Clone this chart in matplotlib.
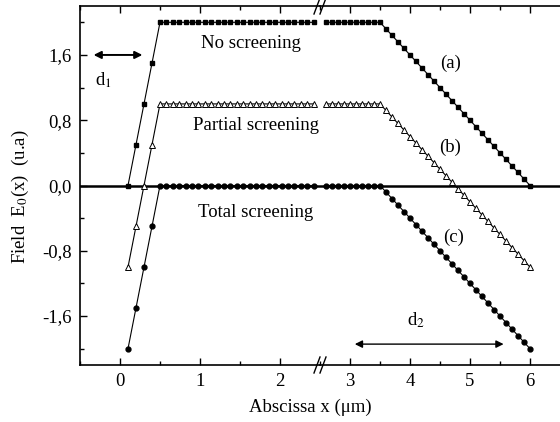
import matplotlib
matplotlib.use("Agg")
import matplotlib.pyplot as plt
from matplotlib.lines import Line2D

plt.rcParams['font.family'] = ['Liberation Serif', 'DejaVu Serif']
plt.rcParams['mathtext.fontset'] = 'stix'

# ---- data (left part of broken axis) ----
x_left = [0.1, 0.2, 0.3, 0.4, 0.5, 0.58, 0.66, 0.74, 0.82, 0.9, 0.98, 1.06, 1.14,
          1.22, 1.3, 1.38, 1.46, 1.54, 1.62, 1.7, 1.78, 1.86, 1.94, 2.02, 2.1,
          2.18, 2.26, 2.34, 2.42]
a_left = [0.0, 0.5, 1.0, 1.5, 2.0, 2.0, 2.0, 2.0, 2.0, 2.0, 2.0, 2.0, 2.0, 2.0,
          2.0, 2.0, 2.0, 2.0, 2.0, 2.0, 2.0, 2.0, 2.0, 2.0, 2.0, 2.0, 2.0, 2.0, 2.0]
b_left = [-1.0, -0.5, 0.0, 0.5, 1.0, 1.0, 1.0, 1.0, 1.0, 1.0, 1.0, 1.0, 1.0, 1.0,
          1.0, 1.0, 1.0, 1.0, 1.0, 1.0, 1.0, 1.0, 1.0, 1.0, 1.0, 1.0, 1.0, 1.0, 1.0]
c_left = [-2.0, -1.5, -1.0, -0.5, 0.0, 0.0, 0.0, 0.0, 0.0, 0.0, 0.0, 0.0, 0.0, 0.0,
          0.0, 0.0, 0.0, 0.0, 0.0, 0.0, 0.0, 0.0, 0.0, 0.0, 0.0, 0.0, 0.0, 0.0, 0.0]

# ---- data (right part of broken axis) ----
x_right = [2.6, 2.7, 2.8, 2.9, 3.0, 3.1, 3.2, 3.3, 3.4, 3.5, 3.6, 3.7, 3.8, 3.9,
           4.0, 4.1, 4.2, 4.3, 4.4, 4.5, 4.6, 4.7, 4.8, 4.9, 5.0, 5.1, 5.2, 5.3,
           5.4, 5.5, 5.6, 5.7, 5.8, 5.9, 6.0]
a_right = [2.0, 2.0, 2.0, 2.0, 2.0, 2.0, 2.0, 2.0, 2.0, 2.0, 1.92, 1.84, 1.76, 1.68,
           1.6, 1.52, 1.44, 1.36, 1.28, 1.2, 1.12, 1.04, 0.96, 0.88, 0.8, 0.72,
           0.64, 0.56, 0.48, 0.4, 0.32, 0.24, 0.16, 0.08, 0.0]
b_right = [1.0, 1.0, 1.0, 1.0, 1.0, 1.0, 1.0, 1.0, 1.0, 1.0, 0.92, 0.84, 0.76, 0.68,
           0.6, 0.52, 0.44, 0.36, 0.28, 0.2, 0.12, 0.04, -0.04, -0.12, -0.2, -0.28,
           -0.36, -0.44, -0.52, -0.6, -0.68, -0.76, -0.84, -0.92, -1.0]
c_right = [0.0, 0.0, 0.0, 0.0, 0.0, 0.0, 0.0, 0.0, 0.0, 0.0, -0.08, -0.16, -0.24,
           -0.32, -0.4, -0.48, -0.56, -0.64, -0.72, -0.8, -0.88, -0.96, -1.04,
           -1.12, -1.2, -1.28, -1.36, -1.44, -1.52, -1.6, -1.68, -1.76, -1.84,
           -1.92, -2.0]

y_ticks = [-1.6, -0.8, 0.0, 0.8, 1.6]
y_ticklabels = ['-1,6', '-0,8', '0,0', '0,8', '1,6']
x_ticks_left = [0, 1, 2]
x_ticks_right = [3, 4, 5, 6]

FS = 13.5
fig = plt.figure(figsize=(5.6, 4.22), dpi=100)
bottom = 1 - 365 / 422
height = (365 - 6) / 422
axL = fig.add_axes([80 / 560, bottom, 240 / 560, height])
axR = fig.add_axes([320 / 560, bottom, 240 / 560, height])

for ax in (axL, axR):
    ax.set_ylim(-2.2, 2.2)
    ax.axhline(0, color='black', lw=1.8, zorder=1)
    ax.tick_params(direction='in', which='both', top=True, labelsize=FS, pad=6)
    ax.tick_params(which='major', length=5, width=1)
    ax.tick_params(which='minor', length=3, width=1)
    for s in ax.spines.values():
        s.set_linewidth(1.2)
    ax.patch.set_alpha(0)

axL.set_xlim(-0.5, 2.5)
axR.set_xlim(2.5, 6.5)
axL.set_xticks(x_ticks_left)
axL.set_xticks([-0.5, 0.5, 1.5, 2.5], minor=True)
axR.set_xticks(x_ticks_right)
axR.set_xticks([3.5, 4.5, 5.5], minor=True)
axL.set_yticks(y_ticks)
axL.set_yticklabels(y_ticklabels)
axL.set_yticks([-2.0, -1.2, -0.4, 0.4, 1.2, 2.0], minor=True)
axR.set_yticks([])
axR.set_yticks([], minor=True)
axL.spines['right'].set_visible(False)
axR.spines['left'].set_visible(False)
axR.spines['right'].set_visible(False)
axL.tick_params(which='both', right=False)

lw = 0.8
ms = 3.2
for ax, x, a, b, c in ((axL, x_left, a_left, b_left, c_left),
                       (axR, x_right, a_right, b_right, c_right)):
    ax.plot(x, a, '-', color='black', lw=lw, marker='s', ms=ms,
            mfc='black', mec='black', zorder=3)
    ax.plot(x, b, '-', color='black', lw=lw, marker='^', ms=ms + 0.6,
            mfc='white', mec='black', mew=0.7, zorder=3)
    ax.plot(x, c, '-', color='black', lw=lw, marker='o', ms=ms + 0.3,
            mfc='black', mec='black', zorder=3)

# text labels
axL.text(1.64, 1.74, 'No screening', fontsize=FS, ha='center', va='center')
axL.text(1.7, 0.74, 'Partial screening', fontsize=FS, ha='center', va='center')
axL.text(1.7, -0.33, 'Total screening', fontsize=FS, ha='center', va='center')
axR.text(4.67, 1.50, '(a)', fontsize=FS, ha='center', va='center')
axR.text(4.67, 0.47, '(b)', fontsize=FS, ha='center', va='center')
axR.text(4.72, -0.63, '(c)', fontsize=FS, ha='center', va='center')

# d1 / d2 arrows
axL.annotate('', xy=(-0.33, 1.6), xytext=(0.28, 1.6),
             arrowprops=dict(arrowstyle='<|-|>', color='black', lw=1.4,
                             mutation_scale=11, shrinkA=0, shrinkB=0))
axL.text(-0.21, 1.29, 'd$_1$', fontsize=FS, ha='center', va='center')
axR.annotate('', xy=(3.08, -1.944), xytext=(5.56, -1.944),
             arrowprops=dict(arrowstyle='<|-|>', color='black', lw=1.0,
                             mutation_scale=11, shrinkA=0, shrinkB=0))
axR.text(4.1, -1.65, 'd$_2$', fontsize=FS, ha='center', va='center')

# break marks
for yb in (bottom, bottom + height):
    for dx in (-3, 3):
        xc = (320 + dx) / 560
        fig.add_artist(Line2D([xc - 3 / 560, xc + 3 / 560],
                              [yb - 8 / 422, yb + 8 / 422],
                              color='black', lw=1.0, transform=fig.transFigure))

fig.text(310 / 560, 1 - 407 / 422, 'Abscissa x (μm)', fontsize=FS,
         ha='center', va='center')
fig.text(20 / 560, 1 - 197 / 422, 'Field  E$_0$(x)  (u.a)', fontsize=FS,
         ha='center', va='center', rotation=90)

fig.savefig('out.png', dpi=100)
